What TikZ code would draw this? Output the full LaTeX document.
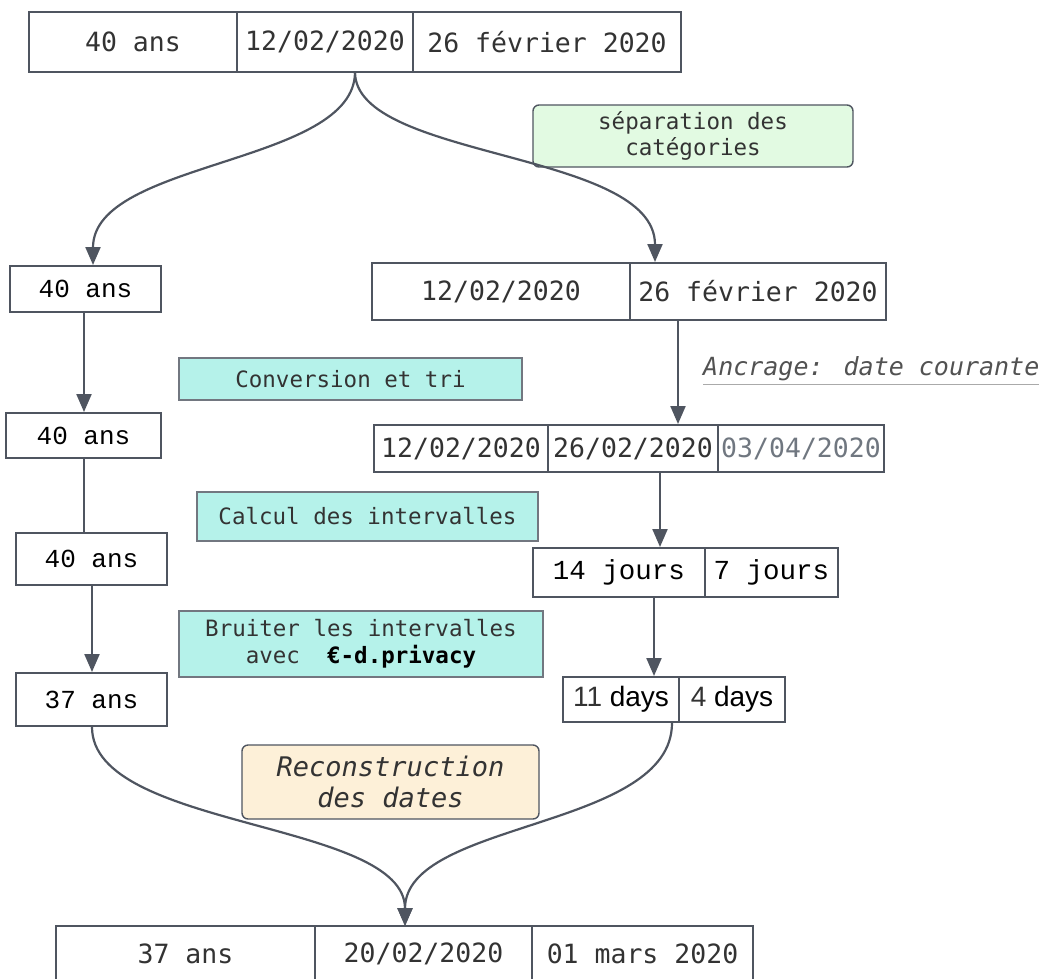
\documentclass[tikz,border=0pt]{standalone}
\usepackage{fontspec}
\usetikzlibrary{arrows.meta,calc}
\newfontfamily\dmono{DejaVu Sans Mono}
\newfontfamily\lmono{Liberation Mono}
\newfontfamily\lsans{Liberation Sans}
\definecolor{lc}{HTML}{4F5560}
\definecolor{tx}{HTML}{333333}
\definecolor{grn}{HTML}{E2FAE2}
\definecolor{cyn}{HTML}{B5F2EA}
\definecolor{org}{HTML}{FDF0D8}
\definecolor{gtx}{HTML}{707780}
\definecolor{ul}{HTML}{AAAAAA}
\tikzset{
  cell/.style={draw=lc, line width=2pt, fill=white, inner sep=0pt, align=center, text=tx},
  lbl/.style={draw=lc!80, line width=1.4pt, inner sep=0pt, align=center, text=tx, font=\dmono\fontsize{22.5}{27}\selectfont},
  conn/.style={draw=lc, line width=2.2pt, -{Triangle[length=18pt,width=15pt]}},
  plain/.style={draw=lc, line width=2.2pt},
  fA/.style={font=\dmono\fontsize{26.5}{30}\selectfont},
  fB/.style={font=\lmono\fontsize{26}{30}\selectfont, text=black},
  fC/.style={font=\lmono\fontsize{27.5}{30}\selectfont, text=black},
  fD/.style={font=\lsans\fontsize{28}{30}\selectfont, text=black},
}
\begin{document}
\begin{tikzpicture}[x=1pt,y=-1pt]
\useasboundingbox (0,0) rectangle (1039,978);
% top box
\node[cell,fA,minimum width=208,minimum height=60] (t1) at (133,42) {40 ans};
\node[cell,fA,minimum width=176,minimum height=60] (t2) at (325,42) {12/02/2020};
\node[cell,fA,minimum width=268,minimum height=60] (t3) at (547,42) {26 février 2020};
\coordinate (tsplit) at (355,72);
% separation label
\node[lbl,draw=lc,fill=grn,rounded corners=6pt,minimum width=320,minimum height=62] (sep) at (693,136) {séparation des\\[-1pt]catégories};
% left column
\node[cell,fB,minimum width=151,minimum height=46] (l1) at (85.5,289) {40 ans};
\node[cell,fB,minimum width=155,minimum height=45] (l2) at (83.5,435.5) {40 ans};
\node[cell,fB,minimum width=151,minimum height=52] (l3) at (91.5,559) {40 ans};
\node[cell,fB,minimum width=151,minimum height=53] (l4) at (91.5,699.5) {37 ans};
% right column
\node[cell,fA,minimum width=258,minimum height=57] (r1a) at (501,291.5) {12/02/2020};
\node[cell,fA,minimum width=256,minimum height=57] (r1b) at (758,291.5) {26 février 2020};
\node[cell,fA,minimum width=174,minimum height=47] (r2a) at (461,448.5) {12/02/2020};
\node[cell,fA,minimum width=170,minimum height=47] (r2b) at (633,448.5) {26/02/2020};
\node[cell,fA,minimum width=166,minimum height=47,text=gtx] (r2c) at (801,448.5) {03/04/2020};
\node[cell,fC,minimum width=172,minimum height=49] (r3a) at (619,572.5) {14 jours};
\node[cell,fC,minimum width=133,minimum height=49] (r3b) at (771.5,572.5) {7 jours};
\node[cell,fD,minimum width=116,minimum height=45] (r4a) at (621,699.5) {\textcolor{tx}{11} days};
\node[cell,fD,minimum width=106,minimum height=45] (r4b) at (732,699.5) {\textcolor{tx}{4} days};
% labels
\node[lbl,fill=cyn,minimum width=343,minimum height=42] (conv) at (350.5,379) {Conversion et tri};
\node[lbl,fill=cyn,minimum width=341,minimum height=49] (calc) at (367.5,516.5) {Calcul des intervalles};
\node[lbl,fill=cyn,minimum width=364,minimum height=66] (bruit) at (361,644) {Bruiter les intervalles\\[0pt]avec~~\textcolor{black}{\bfseries €-d.privacy}};
\node[lbl,draw=lc,fill=org,rounded corners=6pt,minimum width=297,minimum height=74,font=\dmono\itshape\fontsize{27}{31}\selectfont] (recon) at (390.5,782) {Reconstruction\\[0pt]des dates};
\node[anchor=west,inner sep=0pt,text=tx!85,font=\dmono\itshape\fontsize{25}{30}\selectfont] (anc) at (703,369) {Ancrage: date courante};
\draw[ul,line width=1pt] ($(anc.south west)+(0,3)$) -- ($(anc.south east)+(5,3)$);
% bottom box
\node[cell,fA,minimum width=259,minimum height=56] (b1) at (185.5,954) {37 ans};
\node[cell,fA,minimum width=217,minimum height=56] (b2) at (423.5,954) {20/02/2020};
\node[cell,fA,minimum width=221,minimum height=56] (b3) at (642.5,954) {01 mars 2020};
\coordinate (merge) at (405,926);
% connectors
\draw[conn] (tsplit) .. controls (355,165) and (93,160) .. ([xshift=7.5pt]l1.north);
\draw[conn] (tsplit) .. controls (355,160) and (655,150) .. ([xshift=-103pt]r1b.north);
\draw[conn] ([xshift=-1.5pt]l1.south) -- ([xshift=0.5pt]l2.north);
\draw[plain] ([xshift=0.5pt]l2.south) -- ([xshift=-7.5pt]l3.north);
\draw[conn] ([xshift=0.5pt]l3.south) -- ([xshift=0.5pt]l4.north);
\draw[conn] ([xshift=-80pt]r1b.south) -- ([xshift=45pt]r2b.north);
\draw[conn] ([xshift=27pt]r2b.south) -- ([xshift=41pt]r3a.north);
\draw[conn] ([xshift=35pt]r3a.south) -- ([xshift=33pt]r4a.north);
\draw[conn] ([xshift=0.5pt]l4.south) .. controls (92,830) and (405,820) .. (merge);
\draw[conn] ([xshift=51pt]r4a.south) .. controls (672,830) and (405,820) .. (merge);
\end{tikzpicture}
\end{document}
